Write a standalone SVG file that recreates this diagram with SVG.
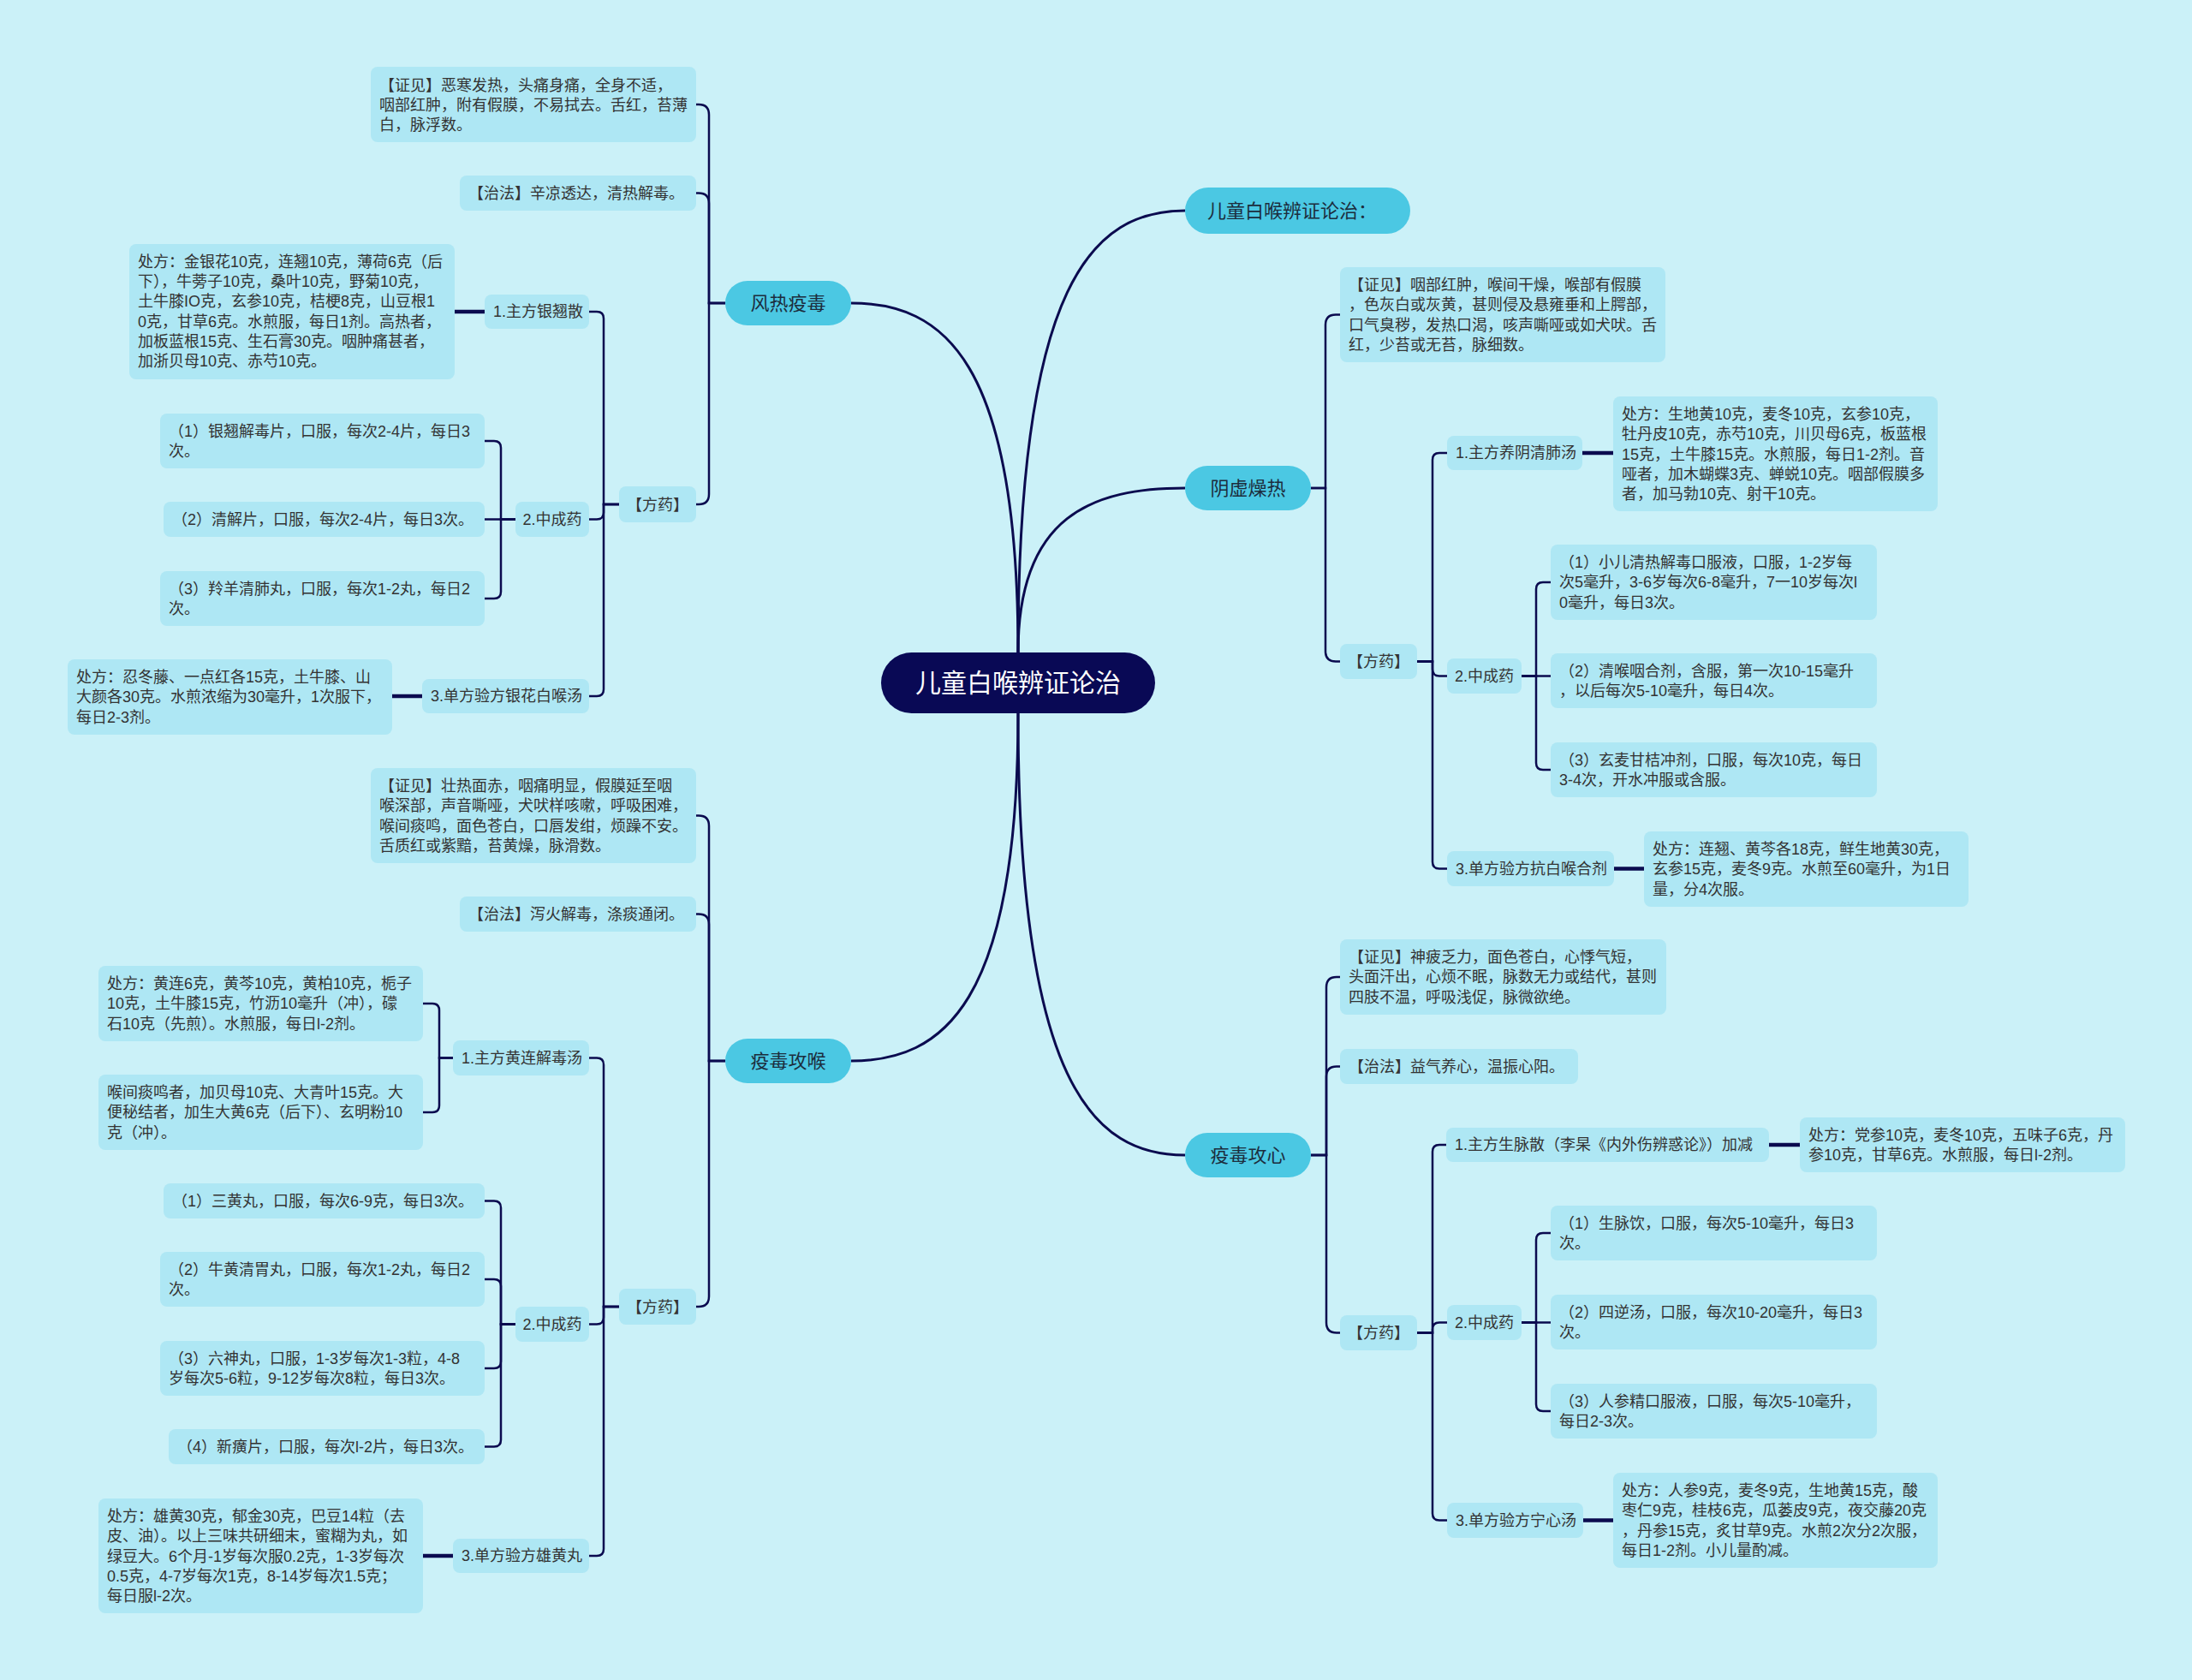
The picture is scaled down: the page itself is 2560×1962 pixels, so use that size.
<svg xmlns="http://www.w3.org/2000/svg" width="2560" height="1962" viewBox="0 0 2560 1962">
<style>
.bx{fill:#aee7f4}
.l1{fill:#4bc8e3}
.t{font-family:"Liberation Sans","Noto Sans CJK SC",sans-serif;font-size:18px;fill:#333}
.tm{text-anchor:middle}
.t1{font-family:"Liberation Sans","Noto Sans CJK SC",sans-serif;font-size:22px;fill:#1c2d3d}
.c{fill:none;stroke:#0b0b4f;stroke-width:2.5}
.ct{fill:none;stroke:#0b0b4f;stroke-width:4.5}
.cr{fill:none;stroke:#0b0b4f;stroke-width:3}
</style>
<rect width="2560" height="1962" fill="#cbf1f8"/>
<g id="connectors">
<path class="cr" d="M994 354 C1101 354 1189 419 1189 762"/>
<path class="cr" d="M1384 246 C1277 246 1189 329 1189 762"/>
<path class="cr" d="M1384 570 C1277 570 1189 601 1189 762"/>
<path class="cr" d="M994 1239 C1101 1239 1189 1174 1189 833"/>
<path class="cr" d="M1384 1349 C1277 1349 1189 1266 1189 833"/>
<path class="c" d="M847 354 H828 V134 Q828 122 816 122 H813"/>
<path class="c" d="M847 354 H828 V237.5 Q828 225.5 816 225.5 H813"/>
<path class="c" d="M847 354 H828 V577 Q828 589 816 589 H813"/>
<path class="c" d="M723 589 H705 V372 Q705 364 697 364 H688"/>
<path class="c" d="M723 589 H705 V598.5 Q705 606.5 697 606.5 H688"/>
<path class="c" d="M723 589 H705 V805 Q705 813 697 813 H688"/>
<path class="c" d="M602 606.5 H585 V523 Q585 515 577 515 H566"/>
<path class="c" d="M602 606.5 H566"/>
<path class="c" d="M602 606.5 H585 V691 Q585 699 577 699 H566"/>
<path class="ct" d="M566 364 H531"/>
<path class="ct" d="M493 813 H458"/>
<path class="c" d="M847 1239 H828 V964.5 Q828 952.5 816 952.5 H813"/>
<path class="c" d="M847 1239 H828 V1079.5 Q828 1067.5 816 1067.5 H813"/>
<path class="c" d="M847 1239 H828 V1514 Q828 1526 816 1526 H813"/>
<path class="c" d="M723 1526 H705 V1243.5 Q705 1235.5 697 1235.5 H688"/>
<path class="c" d="M723 1526 H705 V1538.5 Q705 1546.5 697 1546.5 H688"/>
<path class="c" d="M723 1526 H705 V1809 Q705 1817 697 1817 H688"/>
<path class="c" d="M529 1235.5 H513 V1180 Q513 1172 505 1172 H494"/>
<path class="c" d="M529 1235.5 H513 V1291 Q513 1299 505 1299 H494"/>
<path class="c" d="M602 1546.5 H585 V1410.5 Q585 1402.5 577 1402.5 H566"/>
<path class="c" d="M602 1546.5 H585 V1502 Q585 1494 577 1494 H566"/>
<path class="c" d="M602 1546.5 H585 V1590 Q585 1598 577 1598 H566"/>
<path class="c" d="M602 1546.5 H585 V1681.5 Q585 1689.5 577 1689.5 H566"/>
<path class="ct" d="M529 1817 H494"/>
<path class="c" d="M1531 570 H1548 V379.5 Q1548 367.5 1560 367.5 H1565"/>
<path class="c" d="M1531 570 H1548 V760.5 Q1548 772.5 1560 772.5 H1565"/>
<path class="c" d="M1655 772.5 H1673 V537 Q1673 529 1681 529 H1690"/>
<path class="c" d="M1655 772.5 H1673 V781.5 Q1673 789.5 1681 789.5 H1690"/>
<path class="c" d="M1655 772.5 H1673 V1006.5 Q1673 1014.5 1681 1014.5 H1690"/>
<path class="c" d="M1777 789.5 H1794 V688 Q1794 680 1802 680 H1811"/>
<path class="c" d="M1777 789.5 H1811"/>
<path class="c" d="M1777 789.5 H1794 V891 Q1794 899 1802 899 H1811"/>
<path class="ct" d="M1848 529 H1884"/>
<path class="ct" d="M1885 1014.5 H1920"/>
<path class="c" d="M1531 1349 H1549 V1153 Q1549 1141 1561 1141 H1565"/>
<path class="c" d="M1531 1349 H1549 V1257.5 Q1549 1245.5 1561 1245.5 H1565"/>
<path class="c" d="M1531 1349 H1549 V1544.5 Q1549 1556.5 1561 1556.5 H1565"/>
<path class="c" d="M1655 1556.5 H1673 V1345 Q1673 1337 1681 1337 H1689"/>
<path class="c" d="M1655 1556.5 H1673 V1552.5 Q1673 1544.5 1681 1544.5 H1690"/>
<path class="c" d="M1655 1556.5 H1673 V1767.5 Q1673 1775.5 1681 1775.5 H1690"/>
<path class="c" d="M1777 1544.5 H1794 V1448 Q1794 1440 1802 1440 H1811"/>
<path class="c" d="M1777 1544.5 H1811"/>
<path class="c" d="M1777 1544.5 H1794 V1640 Q1794 1648 1802 1648 H1811"/>
<path class="ct" d="M2066 1337 H2102"/>
<path class="ct" d="M1849 1775.5 H1884"/>
</g>
<g id="root">
<rect x="1029" y="762" width="320" height="71" rx="35.5" fill="#090955"/>
<text x="1189" y="808" text-anchor="middle" font-family="Liberation Sans,Noto Sans CJK SC,sans-serif" font-size="30" fill="#ffffff">儿童白喉辨证论治</text>
</g>
<g id="n-title">
<rect class="l1" x="1384" y="219" width="263" height="54" rx="27"/>
<text class="t1" x="1410" y="254">儿童白喉辨证论治：</text>
</g>
<g id="n-fengre">
<rect class="l1" x="847" y="328" width="147" height="52" rx="26"/>
<text class="t1" x="920.5" y="362" text-anchor="middle">风热疫毒</text>
</g>
<g id="n-fengre-zj">
<rect class="bx" x="433" y="78" width="380" height="88" rx="8"/>
<text class="t" x="443" y="106">【证见】恶寒发热，头痛身痛，全身不适，</text>
<text class="t" x="443" y="129">咽部红肿，附有假膜，不易拭去。舌红，苔薄</text>
<text class="t" x="443" y="152">白，脉浮数。</text>
</g>
<g id="n-fengre-zf">
<rect class="bx" x="537" y="205" width="276" height="41" rx="8"/>
<text class="t" x="547" y="232">【治法】辛凉透达，清热解毒。</text>
</g>
<g id="n-fengre-fy">
<rect class="bx" x="723" y="568" width="90" height="42" rx="8"/>
<text class="t tm" x="768" y="596">【方药】</text>
</g>
<g id="n-fengre-zhu">
<rect class="bx" x="566" y="344" width="122" height="40" rx="8"/>
<text class="t" x="576" y="370">1.主方银翘散</text>
</g>
<g id="n-fengre-zhu-cf">
<rect class="bx" x="151" y="285" width="380" height="158" rx="8"/>
<text class="t" x="161" y="312">处方：金银花10克，连翘10克，薄荷6克（后</text>
<text class="t" x="161" y="335">下），牛蒡子10克，桑叶10克，野菊10克，</text>
<text class="t" x="161" y="358">土牛膝IO克，玄参10克，桔梗8克，山豆根1</text>
<text class="t" x="161" y="382">0克，甘草6克。水煎服，每日1剂。高热者，</text>
<text class="t" x="161" y="405">加板蓝根15克、生石膏30克。咽肿痛甚者，</text>
<text class="t" x="161" y="428">加浙贝母10克、赤芍10克。</text>
</g>
<g id="n-fengre-zcy">
<rect class="bx" x="602" y="586" width="86" height="41" rx="8"/>
<text class="t tm" x="645" y="613">2.中成药</text>
</g>
<g id="n-fengre-zcy1">
<rect class="bx" x="187" y="483" width="379" height="64" rx="8"/>
<text class="t" x="197" y="510">（1）银翘解毒片，口服，每次2-4片，每日3</text>
<text class="t" x="197" y="533">次。</text>
</g>
<g id="n-fengre-zcy2">
<rect class="bx" x="191" y="586" width="375" height="41" rx="8"/>
<text class="t" x="201" y="613">（2）清解片，口服，每次2-4片，每日3次。</text>
</g>
<g id="n-fengre-zcy3">
<rect class="bx" x="187" y="667" width="379" height="64" rx="8"/>
<text class="t" x="197" y="694">（3）羚羊清肺丸，口服，每次1-2丸，每日2</text>
<text class="t" x="197" y="717">次。</text>
</g>
<g id="n-fengre-df">
<rect class="bx" x="493" y="793" width="195" height="40" rx="8"/>
<text class="t" x="503" y="819">3.单方验方银花白喉汤</text>
</g>
<g id="n-fengre-df-cf">
<rect class="bx" x="79" y="770" width="379" height="88" rx="8"/>
<text class="t" x="89" y="797">处方：忍冬藤、一点红各15克，土牛膝、山</text>
<text class="t" x="89" y="820">大颜各30克。水煎浓缩为30毫升，1次服下，</text>
<text class="t" x="89" y="844">每日2-3剂。</text>
</g>
<g id="n-hou">
<rect class="l1" x="847" y="1213" width="147" height="52" rx="26"/>
<text class="t1" x="920.5" y="1247" text-anchor="middle">疫毒攻喉</text>
</g>
<g id="n-hou-zj">
<rect class="bx" x="433" y="897" width="380" height="111" rx="8"/>
<text class="t" x="443" y="924">【证见】壮热面赤，咽痛明显，假膜延至咽</text>
<text class="t" x="443" y="947">喉深部，声音嘶哑，犬吠样咳嗽，呼吸困难，</text>
<text class="t" x="443" y="971">喉间痰鸣，面色苍白，口唇发绀，烦躁不安。</text>
<text class="t" x="443" y="994">舌质红或紫黯，苔黄燥，脉滑数。</text>
</g>
<g id="n-hou-zf">
<rect class="bx" x="537" y="1047" width="276" height="41" rx="8"/>
<text class="t" x="547" y="1074">【治法】泻火解毒，涤痰通闭。</text>
</g>
<g id="n-hou-fy">
<rect class="bx" x="723" y="1505" width="90" height="42" rx="8"/>
<text class="t tm" x="768" y="1533">【方药】</text>
</g>
<g id="n-hou-zhu">
<rect class="bx" x="529" y="1215" width="159" height="41" rx="8"/>
<text class="t" x="539" y="1242">1.主方黄连解毒汤</text>
</g>
<g id="n-hou-zhu-cf">
<rect class="bx" x="115" y="1128" width="379" height="88" rx="8"/>
<text class="t" x="125" y="1155">处方：黄连6克，黄芩10克，黄柏10克，栀子</text>
<text class="t" x="125" y="1178">10克，土牛膝15克，竹沥10毫升（冲），礞</text>
<text class="t" x="125" y="1202">石10克（先煎）。水煎服，每日l-2剂。</text>
</g>
<g id="n-hou-zhu-jj">
<rect class="bx" x="115" y="1255" width="379" height="88" rx="8"/>
<text class="t" x="125" y="1282">喉间痰鸣者，加贝母10克、大青叶15克。大</text>
<text class="t" x="125" y="1305">便秘结者，加生大黄6克（后下）、玄明粉10</text>
<text class="t" x="125" y="1329">克（冲）。</text>
</g>
<g id="n-hou-zcy">
<rect class="bx" x="602" y="1526" width="86" height="41" rx="8"/>
<text class="t tm" x="645" y="1553">2.中成药</text>
</g>
<g id="n-hou-zcy1">
<rect class="bx" x="191" y="1382" width="375" height="41" rx="8"/>
<text class="t" x="201" y="1409">（1）三黄丸，口服，每次6-9克，每日3次。</text>
</g>
<g id="n-hou-zcy2">
<rect class="bx" x="187" y="1462" width="379" height="64" rx="8"/>
<text class="t" x="197" y="1489">（2）牛黄清胃丸，口服，每次1-2丸，每日2</text>
<text class="t" x="197" y="1512">次。</text>
</g>
<g id="n-hou-zcy3">
<rect class="bx" x="187" y="1566" width="379" height="64" rx="8"/>
<text class="t" x="197" y="1593">（3）六神丸，口服，1-3岁每次1-3粒，4-8</text>
<text class="t" x="197" y="1616">岁每次5-6粒，9-12岁每次8粒，每日3次。</text>
</g>
<g id="n-hou-zcy4">
<rect class="bx" x="197" y="1669" width="369" height="41" rx="8"/>
<text class="t" x="207" y="1696">（4）新癀片，口服，每次l-2片，每日3次。</text>
</g>
<g id="n-hou-df">
<rect class="bx" x="529" y="1797" width="159" height="40" rx="8"/>
<text class="t" x="539" y="1823">3.单方验方雄黄丸</text>
</g>
<g id="n-hou-df-cf">
<rect class="bx" x="115" y="1750" width="379" height="134" rx="8"/>
<text class="t" x="125" y="1777">处方：雄黄30克，郁金30克，巴豆14粒（去</text>
<text class="t" x="125" y="1800">皮、油）。以上三味共研细末，蜜糊为丸，如</text>
<text class="t" x="125" y="1824">绿豆大。6个月-1岁每次服0.2克，1-3岁每次</text>
<text class="t" x="125" y="1847">0.5克，4-7岁每次1克，8-14岁每次1.5克；</text>
<text class="t" x="125" y="1870">每日服l-2次。</text>
</g>
<g id="n-yin">
<rect class="l1" x="1384" y="544" width="147" height="52" rx="26"/>
<text class="t1" x="1457.5" y="578" text-anchor="middle">阴虚燥热</text>
</g>
<g id="n-yin-zj">
<rect class="bx" x="1565" y="312" width="380" height="111" rx="8"/>
<text class="t" x="1575" y="339">【证见】咽部红肿，喉间干燥，喉部有假膜</text>
<text class="t" x="1575" y="362">，色灰白或灰黄，甚则侵及悬雍垂和上腭部，</text>
<text class="t" x="1575" y="386">口气臭秽，发热口渴，咳声嘶哑或如犬吠。舌</text>
<text class="t" x="1575" y="409">红，少苔或无苔，脉细数。</text>
</g>
<g id="n-yin-fy">
<rect class="bx" x="1565" y="752" width="90" height="41" rx="8"/>
<text class="t tm" x="1610" y="779">【方药】</text>
</g>
<g id="n-yin-zhu">
<rect class="bx" x="1690" y="509" width="158" height="40" rx="8"/>
<text class="t" x="1700" y="535">1.主方养阴清肺汤</text>
</g>
<g id="n-yin-zhu-cf">
<rect class="bx" x="1884" y="463" width="379" height="134" rx="8"/>
<text class="t" x="1894" y="490">处方：生地黄10克，麦冬10克，玄参10克，</text>
<text class="t" x="1894" y="513">牡丹皮10克，赤芍10克，川贝母6克，板蓝根</text>
<text class="t" x="1894" y="537">15克，土牛膝15克。水煎服，每日1-2剂。音</text>
<text class="t" x="1894" y="560">哑者，加木蝴蝶3克、蝉蜕10克。咽部假膜多</text>
<text class="t" x="1894" y="583">者，加马勃10克、射干10克。</text>
</g>
<g id="n-yin-zcy">
<rect class="bx" x="1690" y="769" width="87" height="41" rx="8"/>
<text class="t tm" x="1733.5" y="796">2.中成药</text>
</g>
<g id="n-yin-zcy1">
<rect class="bx" x="1811" y="636" width="381" height="88" rx="8"/>
<text class="t" x="1821" y="663">（1）小儿清热解毒口服液，口服，1-2岁每</text>
<text class="t" x="1821" y="686">次5毫升，3-6岁每次6-8毫升，7一10岁每次l</text>
<text class="t" x="1821" y="710">0毫升，每日3次。</text>
</g>
<g id="n-yin-zcy2">
<rect class="bx" x="1811" y="763" width="381" height="64" rx="8"/>
<text class="t" x="1821" y="790">（2）清喉咽合剂，含服，第一次10-15毫升</text>
<text class="t" x="1821" y="813">，以后每次5-10毫升，每日4次。</text>
</g>
<g id="n-yin-zcy3">
<rect class="bx" x="1811" y="867" width="381" height="64" rx="8"/>
<text class="t" x="1821" y="894">（3）玄麦甘桔冲剂，口服，每次10克，每日</text>
<text class="t" x="1821" y="917">3-4次，开水冲服或含服。</text>
</g>
<g id="n-yin-df">
<rect class="bx" x="1690" y="994" width="195" height="41" rx="8"/>
<text class="t" x="1700" y="1021">3.单方验方抗白喉合剂</text>
</g>
<g id="n-yin-df-cf">
<rect class="bx" x="1920" y="971" width="379" height="88" rx="8"/>
<text class="t" x="1930" y="998">处方：连翘、黄芩各18克，鲜生地黄30克，</text>
<text class="t" x="1930" y="1021">玄参15克，麦冬9克。水煎至60毫升，为1日</text>
<text class="t" x="1930" y="1045">量，分4次服。</text>
</g>
<g id="n-xin">
<rect class="l1" x="1384" y="1323" width="147" height="52" rx="26"/>
<text class="t1" x="1457.5" y="1357" text-anchor="middle">疫毒攻心</text>
</g>
<g id="n-xin-zj">
<rect class="bx" x="1565" y="1097" width="381" height="88" rx="8"/>
<text class="t" x="1575" y="1124">【证见】神疲乏力，面色苍白，心悸气短，</text>
<text class="t" x="1575" y="1147">头面汗出，心烦不眠，脉数无力或结代，甚则</text>
<text class="t" x="1575" y="1171">四肢不温，呼吸浅促，脉微欲绝。</text>
</g>
<g id="n-xin-zf">
<rect class="bx" x="1565" y="1225" width="278" height="41" rx="8"/>
<text class="t" x="1575" y="1252">【治法】益气养心，温振心阳。</text>
</g>
<g id="n-xin-fy">
<rect class="bx" x="1565" y="1536" width="90" height="41" rx="8"/>
<text class="t tm" x="1610" y="1563">【方药】</text>
</g>
<g id="n-xin-zhu">
<rect class="bx" x="1689" y="1317" width="377" height="40" rx="8"/>
<text class="t" x="1699" y="1343">1.主方生脉散（李杲《内外伤辨惑论》）加减</text>
</g>
<g id="n-xin-zhu-cf">
<rect class="bx" x="2102" y="1305" width="380" height="64" rx="8"/>
<text class="t" x="2112" y="1332">处方：党参10克，麦冬10克，五味子6克，丹</text>
<text class="t" x="2112" y="1355">参10克，甘草6克。水煎服，每日l-2剂。</text>
</g>
<g id="n-xin-zcy">
<rect class="bx" x="1690" y="1524" width="87" height="41" rx="8"/>
<text class="t tm" x="1733.5" y="1551">2.中成药</text>
</g>
<g id="n-xin-zcy1">
<rect class="bx" x="1811" y="1408" width="381" height="64" rx="8"/>
<text class="t" x="1821" y="1435">（1）生脉饮，口服，每次5-10毫升，每日3</text>
<text class="t" x="1821" y="1458">次。</text>
</g>
<g id="n-xin-zcy2">
<rect class="bx" x="1811" y="1512" width="381" height="64" rx="8"/>
<text class="t" x="1821" y="1539">（2）四逆汤，口服，每次10-20毫升，每日3</text>
<text class="t" x="1821" y="1562">次。</text>
</g>
<g id="n-xin-zcy3">
<rect class="bx" x="1811" y="1616" width="381" height="64" rx="8"/>
<text class="t" x="1821" y="1643">（3）人参精口服液，口服，每次5-10毫升，</text>
<text class="t" x="1821" y="1666">每日2-3次。</text>
</g>
<g id="n-xin-df">
<rect class="bx" x="1690" y="1755" width="159" height="41" rx="8"/>
<text class="t" x="1700" y="1782">3.单方验方宁心汤</text>
</g>
<g id="n-xin-df-cf">
<rect class="bx" x="1884" y="1720" width="379" height="111" rx="8"/>
<text class="t" x="1894" y="1747">处方：人参9克，麦冬9克，生地黄15克，酸</text>
<text class="t" x="1894" y="1770">枣仁9克，桂枝6克，瓜蒌皮9克，夜交藤20克</text>
<text class="t" x="1894" y="1794">，丹参15克，炙甘草9克。水煎2次分2次服，</text>
<text class="t" x="1894" y="1817">每日1-2剂。小儿量酌减。</text>
</g>
</svg>
